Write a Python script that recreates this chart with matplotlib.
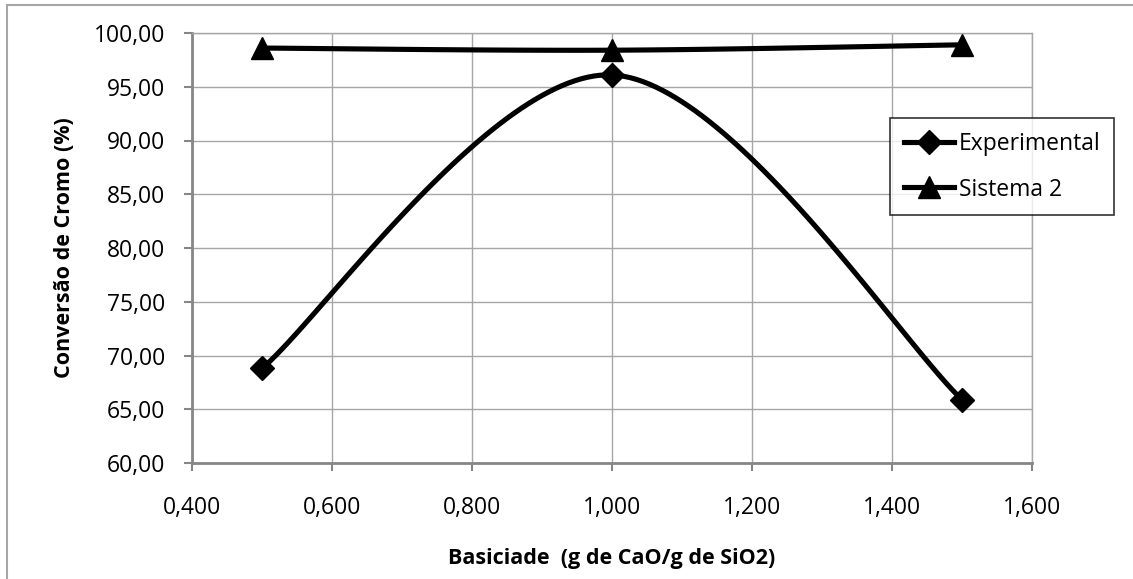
import numpy as np
import matplotlib
matplotlib.use("Agg")
import matplotlib.pyplot as plt
from matplotlib.patches import Rectangle

# data
basicidade = [0.5, 1.0, 1.5]
experimental = [68.8, 96.1, 65.9]
sistema2 = [98.6, 98.4, 98.9]

x_ticks = [0.4, 0.6, 0.8, 1.0, 1.2, 1.4, 1.6]
y_ticks = [60, 65, 70, 75, 80, 85, 90, 95, 100]

plt.rcParams['font.family'] = ['Open Sans', 'DejaVu Sans']


# Excel-like smoothed line (cubic Bezier through the points)
def smooth(xs, ys, n=60):
    P = np.column_stack([xs, ys]).astype(float)
    m = len(P)
    out = []
    for i in range(m - 1):
        p0 = P[i - 1] if i > 0 else P[i]
        p3 = P[i + 2] if i + 2 < m else P[i + 1]
        c1 = P[i] + (P[i + 1] - p0) / 6.0
        c2 = P[i + 1] - (p3 - P[i]) / 6.0
        t = np.linspace(0, 1, n)[:, None]
        seg = ((1 - t) ** 3 * P[i] + 3 * (1 - t) ** 2 * t * c1
               + 3 * (1 - t) * t ** 2 * c2 + t ** 3 * P[i + 1])
        out.append(seg)
    seg = np.vstack(out)
    return seg[:, 0], seg[:, 1]


fig = plt.figure(figsize=(11.33, 5.79), dpi=100)
fig.patches.append(Rectangle((7 / 1133, -0.1), 1.2, 1 - 5 / 579 + 0.1,
                             transform=fig.transFigure, fill=False,
                             edgecolor='#a6a6a6', linewidth=1.5))
ax = fig.add_axes([192 / 1133, 1 - 463 / 579, (1032 - 192) / 1133, (463 - 33) / 579])

LW = 3.7
sx, sy = smooth(basicidade, experimental)
ax.plot(sx, sy, color='black', lw=LW, zorder=3)
ax.plot(basicidade, experimental, linestyle='none', marker='D', ms=12.5,
        color='black', zorder=4)
line1, = ax.plot([], [], color='black', lw=LW, marker='D', ms=12.5, label='Experimental')

sx, sy = smooth(basicidade, sistema2)
ax.plot(sx, sy, color='black', lw=LW, zorder=3)
ax.plot(basicidade, sistema2, linestyle='none', marker='^', ms=16,
        color='black', zorder=4)
line2, = ax.plot([], [], color='black', lw=LW, marker='^', ms=16, label='Sistema 2')

ax.set_xlim(0.4, 1.6)
ax.set_ylim(60, 100)
ax.set_xticks(x_ticks)
ax.set_yticks(y_ticks)
ax.set_xticklabels([f"{v:.3f}".replace('.', ',') for v in x_ticks])
ax.set_yticklabels([f"{v:.2f}".replace('.', ',') for v in y_ticks])
ax.tick_params(axis='both', labelsize=16.5, colors='#868686', labelcolor='black',
               length=6, width=1.5, direction='out')
ax.tick_params(axis='x', pad=18)
ax.tick_params(axis='y', pad=13)

ax.grid(True, color='#a6a6a6', linewidth=1)
for s in ['top', 'right']:
    ax.spines[s].set_color('#a6a6a6')
    ax.spines[s].set_linewidth(1)
for s in ['left', 'bottom']:
    ax.spines[s].set_color('#868686')
    ax.spines[s].set_linewidth(2)

ax.set_ylabel('Conversão de Cromo (%)', fontsize=15.5, fontweight='bold', labelpad=14)
ax.set_xlabel('Basiciade  (g de CaO/g de SiO2)', fontsize=15.5, fontweight='bold', labelpad=20)

leg = ax.legend(handles=[line1, line2], loc='upper left',
                bbox_to_anchor=(890 / 1133, 1 - 118 / 579), bbox_transform=fig.transFigure,
                fontsize=16.5, frameon=True, fancybox=False, edgecolor='black',
                handlelength=2.2, handletextpad=0.2, borderpad=0.6, labelspacing=0.95,
                borderaxespad=0)
leg.get_frame().set_linewidth(1.2)
leg.set_zorder(5)

fig.savefig('out.png', dpi=100)
